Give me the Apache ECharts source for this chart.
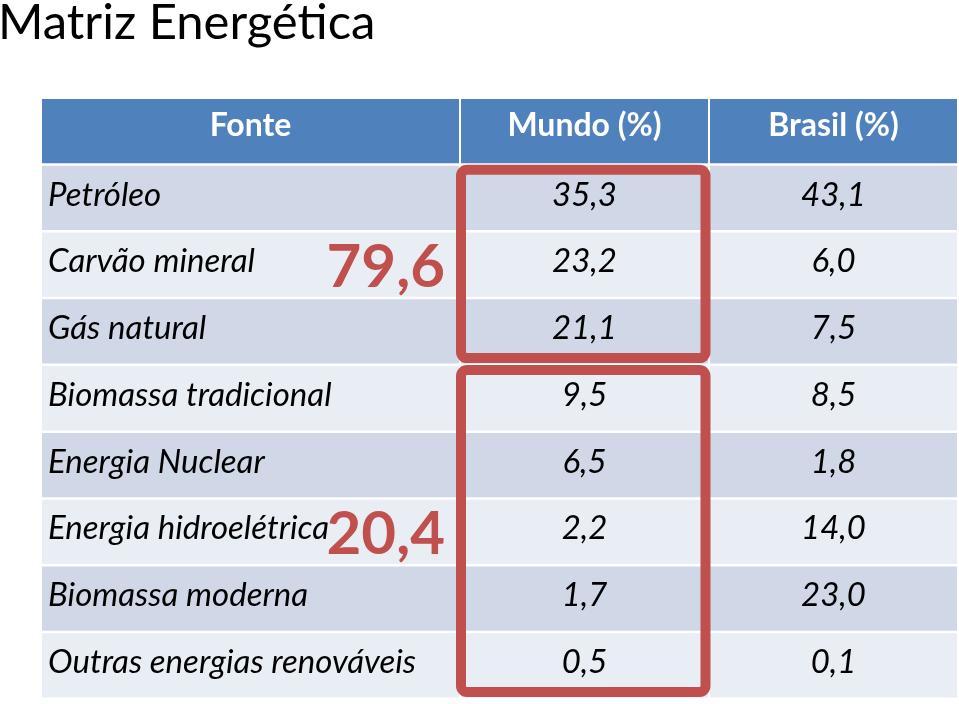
<!DOCTYPE html>
<html><head><meta charset="utf-8">
<script src="https://cdn.jsdelivr.net/npm/echarts@6/dist/echarts.min.js"></script>
<style>html,body{margin:0;padding:0;background:#fff}#c{width:959px;height:704px}</style>
</head><body><div id="c"></div>
<script>
const titleText = 'Matriz Energética';
const headers = ['Fonte', 'Mundo (%)', 'Brasil (%)'];
const fontes = ['Petróleo', 'Carvão mineral', 'Gás natural', 'Biomassa tradicional', 'Energia Nuclear', 'Energia hidroelétrica', 'Biomassa moderna', 'Outras energias renováveis'];
const mundo = [35.3, 23.2, 21.1, 9.5, 6.5, 2.2, 1.7, 0.5];
const brasil = [43.1, 6.0, 7.5, 8.5, 1.8, 14.0, 23.0, 0.1];
const groups = [[0, 2], [3, 7]];
const groupLabels = ['79,6', '20,4'];

const fmt = v => v.toFixed(1).replace('.', ',');
const rows = ['header'].concat(fontes);
const FONT = 'Lato';
const HEAD = '#4F81BD', ODD = '#D0D8E8', EVEN = '#E9EDF4', RED = '#C0504D';

function rowColor(r) { return r === 0 ? HEAD : (r % 2 === 1 ? ODD : EVEN); }

const chart = echarts.init(document.getElementById('c'));

const col0Data = [], col0Text = [];
rows.forEach((_, r) => {
  col0Data.push([0, r]);
  col0Text.push(r === 0 ? headers[0] : fontes[r - 1]);
});
const numData = [], numText = [];
rows.forEach((_, r) => {
  numData.push([0, r]); numText.push(r === 0 ? headers[1] : fmt(mundo[r - 1]));
  numData.push([1, r]); numText.push(r === 0 ? headers[2] : fmt(brasil[r - 1]));
});

function cellRender(leftAlign, texts) {
  return function (params, api) {
    const c = api.value(0), r = api.value(1), txt = texts[params.dataIndex];
    const p = api.coord([c, r]);
    const s = api.size([1, 1]);
    const x = p[0] - s[0] / 2, y = p[1] - s[1] / 2;
    const w = s[0] - 2, h = s[1] - 2.5;
    const isHead = r === 0;
    return {
      type: 'group',
      children: [
        { type: 'rect', shape: { x: x, y: y, width: w, height: h }, style: { fill: rowColor(r) } },
        {
          type: 'text',
          style: {
            text: txt,
            x: (leftAlign && !isHead) ? x + 6 : x + w / 2,
            y: y + h / 2 - (isHead ? 5 : 3),
            align: (leftAlign && !isHead) ? 'left' : 'center',
            verticalAlign: 'middle',
            fill: isHead ? '#ffffff' : '#000000',
            font: (isHead ? 'bold 32px ' : 'italic 33px ') + FONT
          }
        }
      ]
    };
  };
}

const boxData = groups.map(g => [0, g[0] + 1, g[1] + 1]);
const labelData = groups.map(g => [0, g[0] + 1 + (g[1] - g[0]) / 2]);

chart.setOption({
  animation: false,
  title: {
    text: titleText, left: -2, top: -1, padding: 0,
    textStyle: { fontFamily: FONT, fontSize: 49, fontWeight: 'normal', color: '#000' }
  },
  grid: [
    { left: 42, top: 99, width: 419, height: 601 },
    { left: 461, top: 99, width: 498, height: 601 }
  ],
  xAxis: [
    { type: 'category', gridIndex: 0, data: [headers[0]], show: false },
    { type: 'category', gridIndex: 1, data: [headers[1], headers[2]], show: false }
  ],
  yAxis: [
    { type: 'category', gridIndex: 0, data: rows, inverse: true, show: false },
    { type: 'category', gridIndex: 1, data: rows, inverse: true, show: false }
  ],
  series: [
    {
      type: 'custom', xAxisIndex: 0, yAxisIndex: 0, data: col0Data,
      renderItem: cellRender(true, col0Text), silent: true
    },
    {
      type: 'custom', xAxisIndex: 1, yAxisIndex: 1, data: numData,
      renderItem: cellRender(false, numText), silent: true
    },
    {
      type: 'custom', xAxisIndex: 1, yAxisIndex: 1, data: boxData, z: 5, silent: true,
      renderItem: function (params, api) {
        const a = api.coord([0, api.value(1)]);
        const b = api.coord([0, api.value(2)]);
        const s = api.size([1, 1]);
        const x = a[0] - s[0] / 2, top = a[1] - s[1] / 2 + 4, bot = b[1] + s[1] / 2 - 8;
        return {
          type: 'rect',
          shape: { x: x, y: top, width: s[0] - 4.5, height: bot - top, r: 6 },
          style: { fill: 'none', stroke: RED, lineWidth: 10 }
        };
      }
    },
    {
      type: 'custom', xAxisIndex: 0, yAxisIndex: 0, data: labelData, z: 6, silent: true,
      renderItem: function (params, api) {
        const p = api.coord([0, api.value(1)]);
        const s = api.size([1, 1]);
        return {
          type: 'text',
          style: {
            text: groupLabels[params.dataIndex],
            x: p[0] + s[0] / 2 - 16, y: p[1] + 2,
            align: 'right', verticalAlign: 'middle',
            fill: RED, font: 'bold 60px ' + FONT
          }
        };
      }
    }
  ]
});
</script></body></html>
